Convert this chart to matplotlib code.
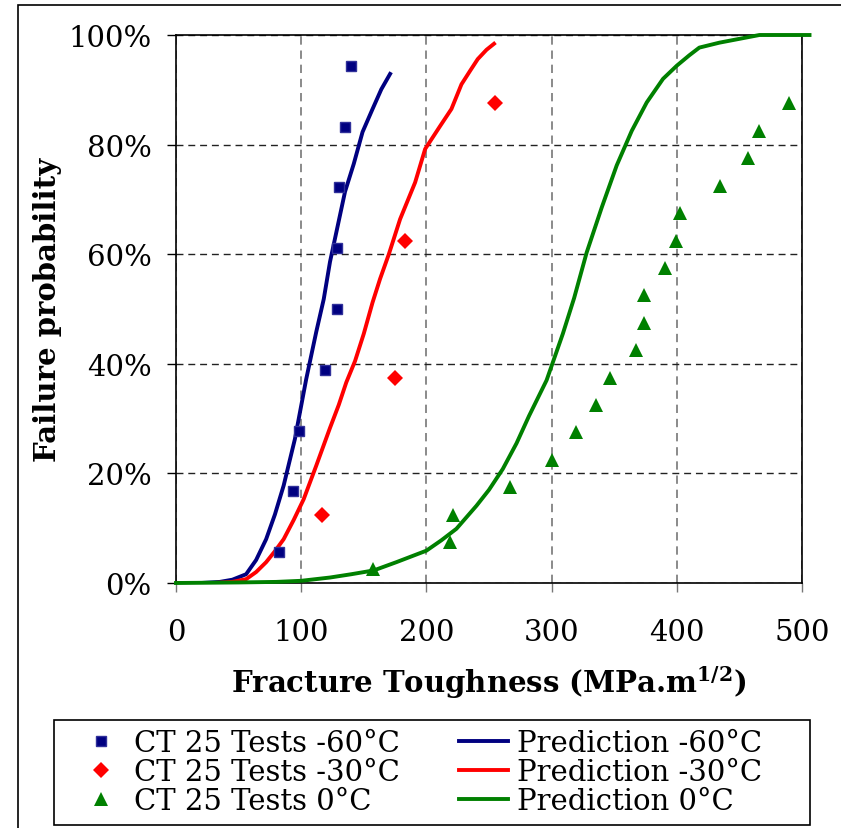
import matplotlib
matplotlib.use('Agg')
import matplotlib.pyplot as plt
from matplotlib.patches import Rectangle

plt.rcParams['font.family'] = ['DejaVu Serif']
plt.rcParams['mathtext.fontset'] = 'dejavuserif'

# essais CT25 (points)
x_m60 = [82.2, 93.4, 98.2, 118.9, 128.5, 128.5, 130.0, 134.9, 139.7]
p_m60 = [5.6, 16.7, 27.8, 38.9, 50.0, 61.1, 72.2, 83.3, 94.4]
x_m30 = [116.3, 175.3, 183.3, 254.6]
p_m30 = [12.5, 37.5, 62.5, 87.5]
x_0 = [157.4, 218.7, 221.3, 266.6, 300.0, 319.2, 335.2, 346.4, 367.1,
       373.5, 373.5, 390.8, 399.0, 402.2, 434.2, 456.5, 466.0, 490.0]
p_0 = [2.5, 7.5, 12.5, 17.5, 22.5, 27.5, 32.5, 37.5, 42.5,
       47.5, 52.5, 57.5, 62.5, 67.5, 72.5, 77.5, 82.5, 87.5]

# predictions (courbes)
xp_m60 = [0, 20, 35, 45, 56, 64, 72, 79, 86, 95, 104, 112, 118, 123, 129,
          135, 142, 149, 157, 164, 171]
pp_m60 = [0, 0, 0.2, 0.6, 1.6, 4.2, 8.0, 12.5, 17.8, 26.3, 37.2, 45.8, 51.8,
          58.6, 65.0, 71.4, 76.5, 82.3, 86.5, 90.1, 92.9]
xp_m30 = [0, 30, 45, 56, 64, 72, 79, 86, 94, 102, 112, 123, 130, 136, 143,
          150, 157, 163, 170, 179, 191, 199, 211, 220, 228, 235, 241, 248, 254]
pp_m30 = [0, 0, 0.2, 0.7, 2.0, 3.8, 5.8, 8.0, 11.5, 15.3, 21.4, 28.3, 32.5,
          36.6, 40.5, 45.5, 51.2, 55.5, 60.0, 66.4, 73.1, 79.2, 83.4, 86.5,
          91.0, 93.5, 95.6, 97.3, 98.4]
xp_0 = [0, 50, 80, 100, 123, 140, 158, 176, 200, 212, 224, 240, 250, 261,
        272, 282, 296, 309, 318, 328, 340, 352, 364, 376, 389, 400, 410, 418,
        434, 450, 466, 506]
pp_0 = [0, 0.1, 0.2, 0.4, 1.0, 1.6, 2.3, 3.8, 5.9, 7.8, 9.9, 14.1, 17.0,
        20.8, 25.5, 30.5, 37.0, 45.5, 52.0, 60.3, 68.5, 76.2, 82.5, 87.7,
        92.0, 94.4, 96.3, 97.7, 98.6, 99.3, 100, 100]

xticks = [0, 100, 200, 300, 400, 500]
yticks = [0, 20, 40, 60, 80, 100]
ylabels = ['0%', '20%', '40%', '60%', '80%', '100%']

W, H = 841, 829
fig = plt.figure(figsize=(W / 100, H / 100), dpi=100)
ax = fig.add_axes([176 / W, 1 - 584 / H, (802 - 176) / W, (584 - 36) / H])

ax.plot(x_m60, p_m60, 's', color='#000080', mec='#30309a', mew=1, ms=7,
        label='CT 25 Tests -60°C', zorder=4)
ax.plot(x_m30, p_m30, 'D', color='#ff0000', ms=8, mew=0,
        label='CT 25 Tests -30°C', zorder=4)
ax.plot(x_0, p_0, '^', color='#008000', ms=10, mew=0,
        label='CT 25 Tests 0°C', zorder=4)
ax.plot(xp_m60, pp_m60, '-', color='#000080', lw=2.8,
        label='Prediction -60°C', zorder=3)
ax.plot(xp_m30, pp_m30, '-', color='#ff0000', lw=2.8,
        label='Prediction -30°C', zorder=3)
ax.plot(xp_0, pp_0, '-', color='#008000', lw=2.8, clip_on=False,
        label='Prediction 0°C', zorder=3)

ax.set_xlim(0, 500)
ax.set_ylim(0, 100)
ax.set_xticks(xticks)
ax.set_yticks(yticks)
ax.set_yticklabels(ylabels)
ax.tick_params(axis='both', labelsize=21, direction='out', length=6.5, width=1)
ax.tick_params(axis='x', color='#777777', pad=19)
ax.tick_params(axis='y', pad=11)
for s in ax.spines.values():
    s.set_linewidth(1.2)
ax.yaxis.grid(True, color='#222222', ls=(0, (5, 3.5)), lw=1)
ax.xaxis.grid(True, color='#777777', ls=(0, (5, 3.5)), lw=1.2)

ax.set_xlabel(r'Fracture Toughness (MPa.m$^{\mathbf{1/2}}$)', fontsize=21,
              fontweight='bold', labelpad=12)
ax.set_ylabel('Failure probability', fontsize=21, fontweight='bold',
              labelpad=5)

# legende sous le graphe, cadre dessine a part
fig.add_artist(Rectangle((54 / W, 1 - 826 / H), (810 - 54) / W, 105 / H,
                         transform=fig.transFigure, fill=False, lw=1.2,
                         color='black'))
h, l = ax.get_legend_handles_labels()
leg = fig.legend(h, l, ncol=2, loc='upper left',
                 bbox_to_anchor=(76 / W, 1 - 730 / H), borderaxespad=0,
                 fontsize=21, frameon=False,
                 handlelength=1.7, handletextpad=0.3, columnspacing=2.0,
                 labelspacing=0.035, borderpad=0)

# cadre exterieur
fig.add_artist(Rectangle((18 / W, -0.1), 1.2, 1 - 6 / H + 0.1,
                         transform=fig.transFigure, fill=False, lw=1.2,
                         color='black'))

fig.savefig('out.png', dpi=100)
